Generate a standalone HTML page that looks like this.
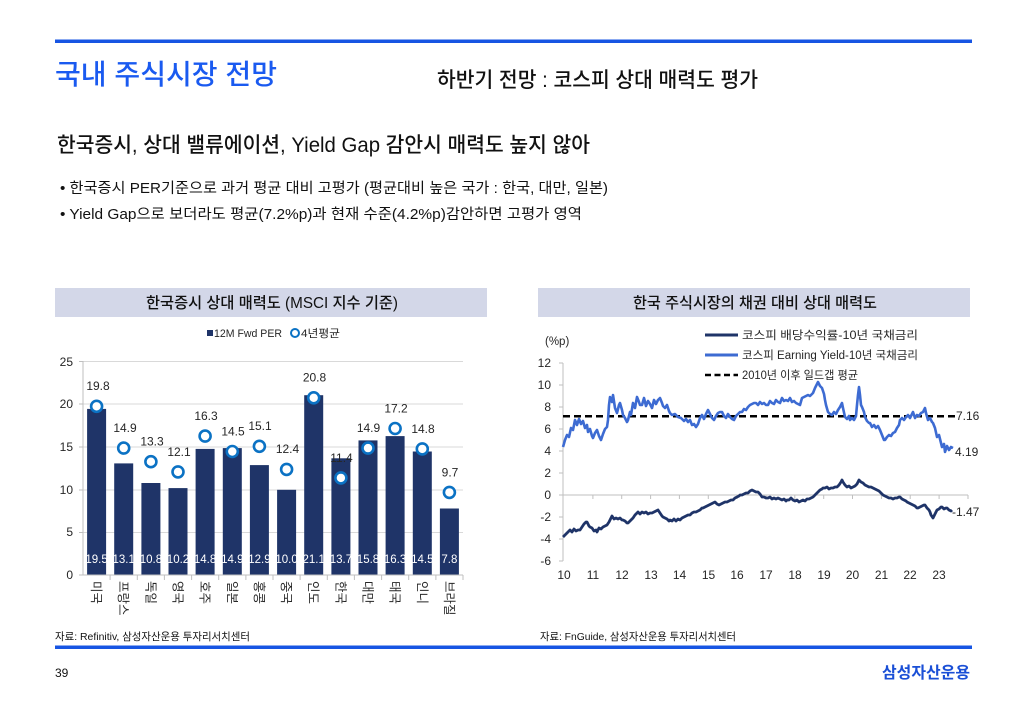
<!DOCTYPE html>
<html><head><meta charset="utf-8">
<style>
html,body{margin:0;padding:0;background:#fff;width:1024px;height:709px;overflow:hidden}
svg text{font-family:"Liberation Sans","Noto Sans CJK KR",sans-serif;fill:#262626}
</style></head><body>
<svg width="1024" height="709" viewBox="0 0 1024 709" xmlns="http://www.w3.org/2000/svg">
<rect width="1024" height="709" fill="#fff"/>
<!-- top rule -->
<rect x="55" y="39.5" width="917" height="3.5" fill="#1755e3"/>
<text x="55" y="84" font-size="28" font-weight="500" style="fill:#1a5af0" textLength="222" lengthAdjust="spacingAndGlyphs">국내 주식시장 전망</text>
<text x="437" y="87" font-size="21" font-weight="500" textLength="321" lengthAdjust="spacingAndGlyphs" style="fill:#111">하반기 전망 : 코스피 상대 매력도 평가</text>
<text x="57" y="152" font-size="21" font-weight="500" textLength="533" lengthAdjust="spacingAndGlyphs" style="fill:#111">한국증시, 상대 밸류에이션, Yield Gap 감안시 매력도 높지 않아</text>
<text x="60" y="193" font-size="14.5" textLength="548" lengthAdjust="spacingAndGlyphs" style="fill:#111">• 한국증시 PER기준으로 과거 평균 대비 고평가 (평균대비 높은 국가 : 한국, 대만, 일본)</text>
<text x="60" y="219" font-size="14.5" textLength="522" lengthAdjust="spacingAndGlyphs" style="fill:#111">• Yield Gap으로 보더라도 평균(7.2%p)과 현재 수준(4.2%p)감안하면 고평가 영역</text>

<!-- chart headers -->
<rect x="55" y="288" width="432" height="29" fill="#d3d7e8"/>
<rect x="538" y="288" width="432" height="29" fill="#d3d7e8"/>
<text x="146" y="308" font-size="15.5" font-weight="500" textLength="252" lengthAdjust="spacingAndGlyphs" style="fill:#111">한국증시 상대 매력도 (MSCI 지수 기준)</text>
<text x="633" y="308" font-size="15.5" font-weight="500" textLength="244" lengthAdjust="spacingAndGlyphs" style="fill:#111">한국 주식시장의 채권 대비 상대 매력도</text>

<!-- LEFT CHART -->
<rect x="207" y="330" width="6" height="6" fill="#1f3468"/>
<text x="214" y="337" font-size="11" textLength="68" lengthAdjust="spacingAndGlyphs">12M Fwd PER</text>
<circle cx="295" cy="333" r="4" fill="#fff" stroke="#0b72c4" stroke-width="2"/>
<text x="301" y="337" font-size="11" textLength="39" lengthAdjust="spacingAndGlyphs">4년평균</text>

<g stroke="#d9d9d9" stroke-width="1">
<line x1="83" y1="361.5" x2="463" y2="361.5"/>
<line x1="83" y1="404" x2="463" y2="404"/>
<line x1="83" y1="447" x2="463" y2="447"/>
<line x1="83" y1="490" x2="463" y2="490"/>
<line x1="83" y1="532.5" x2="463" y2="532.5"/>
</g>
<g font-size="12" text-anchor="end">
<text x="73" y="366">25</text>
<text x="73" y="408">20</text>
<text x="73" y="451">15</text>
<text x="73" y="494">10</text>
<text x="73" y="536">5</text>
<text x="73" y="579">0</text>
</g>
<g fill="#1f3468">
<rect x="87.1" y="408.9" width="19" height="166.1"/>
<rect x="114.2" y="463.4" width="19" height="111.6"/>
<rect x="141.4" y="483" width="19" height="92"/>
<rect x="168.5" y="488.1" width="19" height="86.9"/>
<rect x="195.6" y="448.9" width="19" height="126.1"/>
<rect x="222.8" y="448.1" width="19" height="126.9"/>
<rect x="249.9" y="465.1" width="19" height="109.9"/>
<rect x="277.1" y="489.8" width="19" height="85.2"/>
<rect x="304.2" y="395.2" width="19" height="179.8"/>
<rect x="331.4" y="458.3" width="19" height="116.7"/>
<rect x="358.5" y="440.4" width="19" height="134.6"/>
<rect x="385.6" y="436.1" width="19" height="138.9"/>
<rect x="412.8" y="451.5" width="19" height="123.5"/>
<rect x="439.9" y="508.5" width="19" height="66.5"/>
</g>
<g stroke="#bfbfbf" stroke-width="1">
<line x1="83" y1="361" x2="83" y2="575"/>
<line x1="79" y1="361.5" x2="83" y2="361.5"/>
<line x1="79" y1="404" x2="83" y2="404"/>
<line x1="79" y1="447" x2="83" y2="447"/>
<line x1="79" y1="490" x2="83" y2="490"/>
<line x1="79" y1="532.5" x2="83" y2="532.5"/>
<line x1="79" y1="575" x2="463" y2="575"/>
<line x1="110.1" y1="575" x2="110.1" y2="580"/>
<line x1="137.3" y1="575" x2="137.3" y2="580"/>
<line x1="164.4" y1="575" x2="164.4" y2="580"/>
<line x1="191.6" y1="575" x2="191.6" y2="580"/>
<line x1="218.7" y1="575" x2="218.7" y2="580"/>
<line x1="245.9" y1="575" x2="245.9" y2="580"/>
<line x1="273" y1="575" x2="273" y2="580"/>
<line x1="300.1" y1="575" x2="300.1" y2="580"/>
<line x1="327.3" y1="575" x2="327.3" y2="580"/>
<line x1="354.4" y1="575" x2="354.4" y2="580"/>
<line x1="381.6" y1="575" x2="381.6" y2="580"/>
<line x1="408.7" y1="575" x2="408.7" y2="580"/>
<line x1="435.9" y1="575" x2="435.9" y2="580"/>
<line x1="463" y1="575" x2="463" y2="580"/>
</g>
<!-- bar value labels -->
<g font-size="11.5" text-anchor="middle">
<text x="96.6" y="563" style="fill:#fff">19.5</text>
<text x="123.7" y="563" style="fill:#fff">13.1</text>
<text x="150.9" y="563" style="fill:#fff">10.8</text>
<text x="178" y="563" style="fill:#fff">10.2</text>
<text x="205.1" y="563" style="fill:#fff">14.8</text>
<text x="232.3" y="563" style="fill:#fff">14.9</text>
<text x="259.4" y="563" style="fill:#fff">12.9</text>
<text x="286.6" y="563" style="fill:#fff">10.0</text>
<text x="313.7" y="563" style="fill:#fff">21.1</text>
<text x="340.9" y="563" style="fill:#fff">13.7</text>
<text x="368" y="563" style="fill:#fff">15.8</text>
<text x="395.1" y="563" style="fill:#fff">16.3</text>
<text x="422.3" y="563" style="fill:#fff">14.5</text>
<text x="449.4" y="563" style="fill:#fff">7.8</text>
</g>
<!-- circles -->
<g fill="#fff" stroke="#0b72c4" stroke-width="2.6">
<circle cx="96.6" cy="406.3" r="5.5"/>
<circle cx="123.7" cy="448.1" r="5.5"/>
<circle cx="150.9" cy="461.7" r="5.5"/>
<circle cx="178" cy="471.9" r="5.5"/>
<circle cx="205.1" cy="436.1" r="5.5"/>
<circle cx="232.3" cy="451.5" r="5.5"/>
<circle cx="259.4" cy="446.3" r="5.5"/>
<circle cx="286.6" cy="469.4" r="5.5"/>
<circle cx="313.7" cy="397.8" r="5.5"/>
<circle cx="340.9" cy="477.9" r="5.5"/>
<circle cx="368" cy="448.1" r="5.5"/>
<circle cx="395.1" cy="428.5" r="5.5"/>
<circle cx="422.3" cy="448.9" r="5.5"/>
<circle cx="449.4" cy="492.4" r="5.5"/>
</g>
<g font-size="12" text-anchor="middle">
<text x="98" y="390">19.8</text>
<text x="125" y="432">14.9</text>
<text x="152" y="445.5">13.3</text>
<text x="179" y="456">12.1</text>
<text x="206" y="420">16.3</text>
<text x="233" y="435.5">14.5</text>
<text x="260" y="430">15.1</text>
<text x="287.5" y="453">12.4</text>
<text x="314.5" y="381.5">20.8</text>
<text x="341.5" y="462">11.4</text>
<text x="368.5" y="432">14.9</text>
<text x="396" y="412.5">17.2</text>
<text x="423" y="433">14.8</text>
<text x="450" y="476.5">9.7</text>
</g>
<!-- rotated country labels -->
<g font-size="12.5">
<text transform="translate(92,581) rotate(90)">미국</text>
<text transform="translate(119.2,581) rotate(90)">프랑스</text>
<text transform="translate(146.4,581) rotate(90)">독일</text>
<text transform="translate(173.5,581) rotate(90)">영국</text>
<text transform="translate(200.6,581) rotate(90)">호주</text>
<text transform="translate(227.8,581) rotate(90)">일본</text>
<text transform="translate(254.9,581) rotate(90)">홍콩</text>
<text transform="translate(282.1,581) rotate(90)">중국</text>
<text transform="translate(309.2,581) rotate(90)">인도</text>
<text transform="translate(336.4,581) rotate(90)">한국</text>
<text transform="translate(363.5,581) rotate(90)">대만</text>
<text transform="translate(390.6,581) rotate(90)">태국</text>
<text transform="translate(417.8,581) rotate(90)">인니</text>
<text transform="translate(444.9,581) rotate(90)">브라질</text>
</g>

<!-- RIGHT CHART -->
<text x="545" y="345" font-size="11.5">(%p)</text>
<line x1="705" y1="335" x2="738" y2="335" stroke="#1f3468" stroke-width="3"/>
<text x="742" y="339" font-size="11.5" textLength="176" lengthAdjust="spacingAndGlyphs">코스피 배당수익률-10년 국채금리</text>
<line x1="705" y1="355" x2="738" y2="355" stroke="#3d6bd2" stroke-width="3"/>
<text x="742" y="359" font-size="11.5" textLength="176" lengthAdjust="spacingAndGlyphs">코스피 Earning Yield-10년 국채금리</text>
<line x1="705" y1="375" x2="738" y2="375" stroke="#000" stroke-width="2.5" stroke-dasharray="6,3.5"/>
<text x="742" y="379" font-size="11.5" textLength="116" lengthAdjust="spacingAndGlyphs">2010년 이후 일드갭 평균</text>

<g font-size="12" text-anchor="end">
<text x="551" y="367">12</text>
<text x="551" y="389">10</text>
<text x="551" y="411">8</text>
<text x="551" y="433">6</text>
<text x="551" y="455">4</text>
<text x="551" y="477">2</text>
<text x="551" y="499">0</text>
<text x="551" y="521">-2</text>
<text x="551" y="543">-4</text>
<text x="551" y="565">-6</text>
</g>
<g stroke="#bfbfbf" stroke-width="1">
<line x1="563" y1="363" x2="563" y2="561"/>
<line x1="559" y1="363" x2="563" y2="363"/>
<line x1="559" y1="385" x2="563" y2="385"/>
<line x1="559" y1="407" x2="563" y2="407"/>
<line x1="559" y1="429" x2="563" y2="429"/>
<line x1="559" y1="451" x2="563" y2="451"/>
<line x1="559" y1="473" x2="563" y2="473"/>
<line x1="559" y1="495" x2="563" y2="495"/>
<line x1="559" y1="517" x2="563" y2="517"/>
<line x1="559" y1="539" x2="563" y2="539"/>
<line x1="559" y1="561" x2="563" y2="561"/>
<line x1="563" y1="495" x2="968" y2="495"/>
<line x1="592.9" y1="495" x2="592.9" y2="499"/>
<line x1="621.7" y1="495" x2="621.7" y2="499"/>
<line x1="650.6" y1="495" x2="650.6" y2="499"/>
<line x1="679.4" y1="495" x2="679.4" y2="499"/>
<line x1="708.3" y1="495" x2="708.3" y2="499"/>
<line x1="737.1" y1="495" x2="737.1" y2="499"/>
<line x1="766" y1="495" x2="766" y2="499"/>
<line x1="794.8" y1="495" x2="794.8" y2="499"/>
<line x1="823.7" y1="495" x2="823.7" y2="499"/>
<line x1="852.5" y1="495" x2="852.5" y2="499"/>
<line x1="881.4" y1="495" x2="881.4" y2="499"/>
<line x1="910.2" y1="495" x2="910.2" y2="499"/>
<line x1="939.1" y1="495" x2="939.1" y2="499"/>
<line x1="968" y1="495" x2="968" y2="499"/>
</g>
<g font-size="12" text-anchor="middle">
<text x="564" y="579">10</text>
<text x="593" y="579">11</text>
<text x="622" y="579">12</text>
<text x="651" y="579">13</text>
<text x="679.5" y="579">14</text>
<text x="708.5" y="579">15</text>
<text x="737" y="579">16</text>
<text x="766" y="579">17</text>
<text x="795" y="579">18</text>
<text x="824" y="579">19</text>
<text x="852.5" y="579">20</text>
<text x="881.5" y="579">21</text>
<text x="910" y="579">22</text>
<text x="939" y="579">23</text>
</g>

<!-- average dashed line -->
<line x1="563" y1="416.2" x2="955" y2="416.2" stroke="#000" stroke-width="2.5" stroke-dasharray="7,4"/>

<!-- earning yield series -->
<polyline fill="none" stroke="#3d6bd2" stroke-width="2.6" stroke-linejoin="round" points="563,447 565,440 567,435 569,437 571,428 573,430 575,420 577,425 579,419 581,424 583,421 585,428 587,425 588,432 590,429 592,436 593,438 595,433 597,430 599,436 601,440 603,434 605,429 607,427 608,420 609,405 610,397 612,402 613,395 615,408 617,413 619,405 620,403 622,410 623,415 625,418 627,422 628,420 630,412 631,415 633,403 635,408 637,397 639,402 640,405 642,405 644,398 646,406 648,401 650,404 652,408 654,400 656,404 658,400 660,398 662,403 663,406 665,408 667,405 669,411 670,413 672,415 675,414 678,417 681,418 684,421 686,419 688,422 690,420 692,425 694,424 696,427 698,424 700,418 702,415 704,419 706,414 708,410 710,414 712,418 714,420 716,416 718,413 720,412 722,412 724,416 726,418 728,414 730,417 732,419 734,420 736,416 738,414 740,412 742,412 744,409 746,410 748,407 750,405 752,404 754,403 756,403 758,405 760,402 762,404 764,403 766,405 768,405 770,401 772,403 774,404 776,400 778,402 780,403 782,398 784,401 786,400 788,401 790,398 792,402 794,401 796,403 798,404 800,405 802,398 804,397 806,396 808,395 810,396 812,394 813,393 815,388 817,384 818,382 820,386 822,388 824,394 825,400 826,405 828,412 830,414 832,415 834,412 836,414 838,410 840,407 842,403 843,408 845,417 847,419 849,416 850,420 852,418 854,420 856,416 857,405 858,395 859,387 860,395 861,405 862,407 864,412 865,417 867,421 869,423 870,423 872,427 874,425 876,428 878,426 880,430 882,435 884,440 885,440 887,437 889,435 891,436 893,433 895,432 897,428 899,425 900,420 902,418 904,420 906,417 908,415 910,418 912,414 913,412 915,418 917,415 919,416 921,413 923,412 925,408 926,413 928,420 930,418 932,422 933,423 935,428 937,437 939,435 941,443 942,447 944,444 945,452 947,446 949,450 951,447 953,448"/>

<!-- dividend yield series -->
<polyline fill="none" stroke="#1f3468" stroke-width="2.8" stroke-linejoin="round" points="563,537 565,535 567,533 569,531 570,530 572,532 574,529 576,531 578,530 580,530 582,527 584,524 586,522 587,522 589,526 590,527 592,528 594,531 596,530 597,532 599,528 601,529 603,527 605,526 607,525 609,522 611,518 612,516 614,519 616,518 618,519 620,518 622,520 623,520 625,521 627,523 628,523 630,521 632,519 633,518 635,515 637,513 638,512 640,514 642,512 644,513 646,512 648,514 650,513 652,513 654,512 656,511 658,510 660,513 662,516 663,517 665,518 667,519 669,521 670,520 672,521 674,519 676,521 678,519 680,520 682,518 684,517 686,516 688,515 690,515 692,513 694,512 696,512 698,511 700,510 702,508 703,508 705,507 707,506 709,505 711,504 713,503 715,502 717,504 719,505 721,504 723,503 725,502 727,502 729,501 731,500 733,500 735,498 737,497 739,496 740,495 742,495 744,494 746,493 748,493 750,491 752,490 754,491 756,492 758,492 760,494 762,497 764,497 766,498 768,498 770,497 772,499 774,498 776,499 778,498 780,499 782,500 784,499 786,501 787,500 789,500 791,498 793,500 795,501 797,500 799,502 801,501 803,500 805,501 807,499 809,499 811,498 813,497 815,495 817,493 818,492 820,490 822,489 823,488 825,488 827,487 829,489 831,488 833,488 835,487 837,487 839,485 841,482 842,480 843,482 845,485 847,487 849,486 851,488 853,487 855,486 857,484 859,480 861,482 863,483 865,485 867,486 869,487 871,487 873,488 875,489 877,490 879,491 881,493 883,495 885,496 887,497 889,498 891,498 893,499 895,498 897,498 899,497 900,497 902,499 904,500 906,501 907,502 909,503 911,504 913,505 915,506 917,508 918,508 920,507 922,506 924,505 925,505 927,508 929,510 930,512 931,515 933,518 935,514 937,510 939,509 941,507 942,507 944,509 946,508 947,508 949,510 951,511 952,510"/>

<g font-size="12">
<text x="956" y="420">7.16</text>
<text x="955" y="456">4.19</text>
<text x="952" y="516">-1.47</text>
</g>

<!-- sources -->
<text x="55" y="640" font-size="10.5" textLength="195" lengthAdjust="spacingAndGlyphs" style="fill:#111">자료: Refinitiv, 삼성자산운용 투자리서치센터</text>
<text x="540" y="640" font-size="10.5" textLength="196" lengthAdjust="spacingAndGlyphs" style="fill:#111">자료: FnGuide, 삼성자산운용 투자리서치센터</text>
<rect x="55" y="645.5" width="917" height="3.5" fill="#1755e3"/>
<text x="55" y="677" font-size="12" style="fill:#111">39</text>
<text x="970" y="678" font-size="16" font-weight="bold" text-anchor="end" textLength="88" lengthAdjust="spacingAndGlyphs" style="fill:#1a4fd6">삼성자산운용</text>
</svg>
</body></html>
